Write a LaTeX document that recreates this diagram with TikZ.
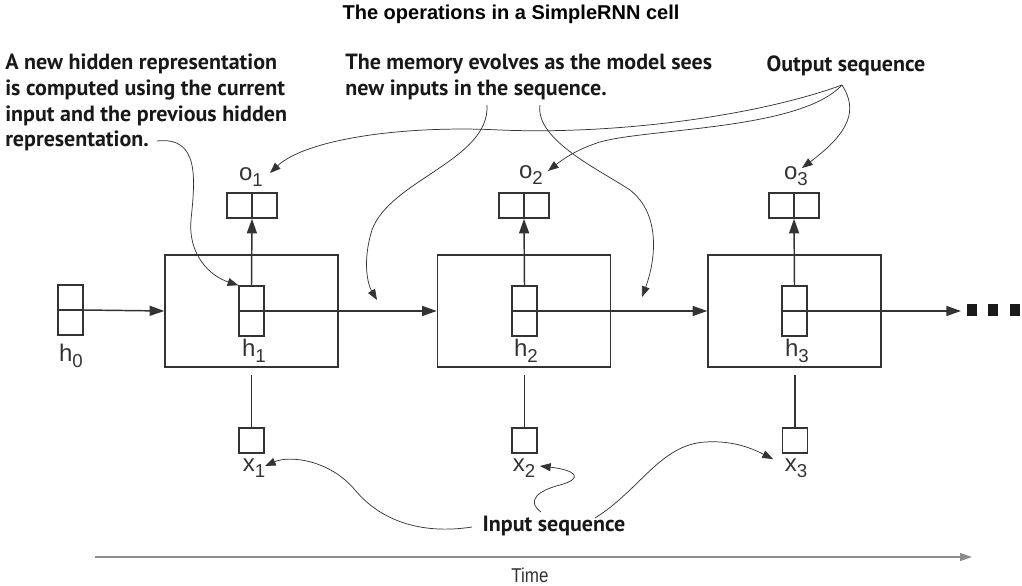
\documentclass[tikz,border=0pt]{standalone}
\usepackage{fontspec}
\setmainfont{Liberation Sans}
\newfontfamily\annfont{PT Sans}
\newfontfamily\narrowfont[FakeStretch=0.85]{Liberation Sans}
\usetikzlibrary{arrows.meta}
\definecolor{ink}{HTML}{333333}
\definecolor{timegray}{HTML}{8C8C8C}
\newcommand{\lbl}[2]{#1\raisebox{-0.45ex}{\fontsize{14}{15}\selectfont #2}}
\tikzset{
  ln/.style={draw=ink, line width=1.1pt},
  arr/.style={ln, -{Triangle[length=11pt,width=7.5pt]}},
  ann/.style={draw=ink, line width=0.55pt, -{Triangle[length=8pt,width=6pt]}},
  hbox/.style={ln, minimum width=18.75pt, minimum height=37.5pt, inner sep=0pt},
  obox/.style={ln, minimum width=37.5pt, minimum height=18.75pt, inner sep=0pt},
  xbox/.style={ln, minimum width=18.75pt, minimum height=18.75pt, inner sep=0pt},
  cell/.style={ln, minimum width=129.75pt, minimum height=84pt, inner sep=0pt},
  lab/.style={font=\fontsize{18}{20}\selectfont, text=ink, inner sep=0pt},
  anntext/.style={font=\annfont\bfseries\fontsize{16.5}{19.2}\selectfont, text=black!90, inner sep=0pt, align=left},
  dot/.style={fill=black!90, minimum width=8pt, minimum height=8.5pt, inner sep=0pt}
}
\begin{document}
\begin{tikzpicture}[x=0.75pt,y=-0.75pt]
\useasboundingbox (0,0) rectangle (1022,586);
% title
\node[font=\bfseries\fontsize{15}{17}\selectfont, inner sep=0pt] (title) at (511,14) {The operations in a SimpleRNN cell};
% cells
\node[cell] (c1) at (251.5,311) {};
\node[cell] (c2) at (524,311) {};
\node[cell] (c3) at (794.5,311) {};
% hidden boxes
\node[hbox] (h0) at (70.5,310) {};
\node[hbox] (h1) at (251.5,311) {};
\node[hbox] (h2) at (524.5,311) {};
\node[hbox] (h3) at (794.5,311) {};
% output boxes
\node[obox] (o1) at (252,205.5) {};
\node[obox] (o2) at (524,205.5) {};
\node[obox] (o3) at (794,205.5) {};
% input boxes
\node[xbox] (x1) at (251.5,440.5) {};
\node[xbox] (x2) at (524.5,440.5) {};
\node[xbox] (x3) at (795,440.5) {};
% labels
\node[lab] (lh0) at (71,356) {\lbl{h}{0}};
\node[lab] (lh1) at (254,351) {\lbl{h}{1}};
\node[lab] (lh2) at (526,351) {\lbl{h}{2}};
\node[lab] (lh3) at (797,351) {\lbl{h}{3}};
\node[lab] (lo1) at (251,177) {\lbl{o}{1}};
\node[lab] (lo2) at (531,175) {\lbl{o}{2}};
\node[lab] (lo3) at (796,176) {\lbl{o}{3}};
\node[lab] (lx1) at (254,468) {\lbl{x}{1}};
\node[lab] (lx2) at (524,468) {\lbl{x}{2}};
\node[lab] (lx3) at (796,468) {\lbl{x}{3}};
% dividers
\draw[ln] (h0.west) -- (h0.east);
\draw[ln] (o1.north) -- (o1.south);
\draw[ln] (o2.north) -- (o2.south);
\draw[ln] (o3.north) -- (o3.south);
% horizontal flow
\draw[arr] (h0.east) -- (c1.west);
\draw[ln] (h1.west) -- (c1.east);
\draw[arr] (c1.east) -- (c2.west);
\draw[ln] (h2.west) -- (c2.east);
\draw[arr] (c2.east) -- (c3.west);
\draw[ln] (h3.west) -- (c3.east);
\coordinate (endp) at (961,311);
\draw[arr] (c3.east) -- (endp);
\node[dot] (d1) at (972,310) {};
\node[dot] (d2) at (993,310) {};
\node[dot] (d3) at (1015,310) {};
% vertical to outputs
\draw[arr] (h1.north) -- (o1.south);
\draw[arr] (h2.north) -- (o2.south);
\draw[arr] (h3.north) -- (o3.south);
% inputs
\coordinate (s1) at (251.5,375);
\coordinate (s2) at (524.5,375);
\coordinate (s3) at (795,375);
\draw[ln] (x1.north) -- (s1);
\draw[ln] (x2.north) -- (s2);
\draw[ln] (x3.north) -- (s3);
% annotations
\node[anntext, anchor=north west] (t1) at (5,54) {A new hidden representation\\is computed using the current\\input and the previous hidden\\representation.};
\node[anntext, anchor=north west] (t2) at (345,54) {The memory evolves as the model sees\\new inputs in the sequence.};
\node[anntext] (t3) at (846,66) {Output sequence};
\node[anntext] (t4) at (554,526) {Input sequence};
\coordinate (a1) at (157,141);
\draw[ann] (a1) .. controls (200,136) and (195,180) .. (191,220) .. controls (188,255) and (210,276) .. (h1.north west);
\coordinate (m1) at (487,105);
\coordinate (m2) at (540,105);
\coordinate (m1e) at (377,300);
\coordinate (m2e) at (642,297);
\draw[ann] (m1) .. controls (490,160) and (390,180) .. (372,230) .. controls (362,262) and (368,285) .. (m1e);
\draw[ann] (m2) .. controls (535,140) and (600,170) .. (630,190) .. controls (662,215) and (655,262) .. (m2e);
\coordinate (os) at (842,85);
\coordinate (oe1) at (270,173);
\coordinate (oe2) at (548,171);
\coordinate (oe3) at (802,168);
\draw[ann] (os) .. controls (760,115) and (620,135) .. (500,130) .. controls (400,125) and (305,140) .. (oe1);
\draw[ann] (os) .. controls (800,130) and (650,128) .. (600,142) .. controls (575,150) and (562,160) .. (oe2);
\draw[ann] (os) .. controls (858,110) and (850,132) .. (oe3);
\coordinate (is1) at (472,527);
\coordinate (is2) at (541,512);
\coordinate (is3) at (595,518);
\coordinate (ie1) at (265,466);
\coordinate (ie2) at (540,466);
\coordinate (ie3) at (773,459);
\draw[ann] (is1) .. controls (420,535) and (380,520) .. (355,490) .. controls (330,460) and (290,455) .. (ie1);
\draw[ann] (is2) .. controls (525,500) and (540,490) .. (560,485) .. controls (585,478) and (575,470) .. (ie2);
\draw[ann] (is3) .. controls (640,490) and (660,445) .. (705,442) .. controls (735,440) and (755,450) .. (ie3);
% time
\coordinate (ts) at (95,557);
\coordinate (te) at (972,557);
\draw[draw=timegray, line width=1pt, -{Triangle[length=9pt,width=6pt]}] (ts) -- (te);
\node[font=\narrowfont\fontsize{15}{17}\selectfont, inner sep=0pt, text=ink] (time) at (530,575) {Time};
\end{tikzpicture}
\end{document}
